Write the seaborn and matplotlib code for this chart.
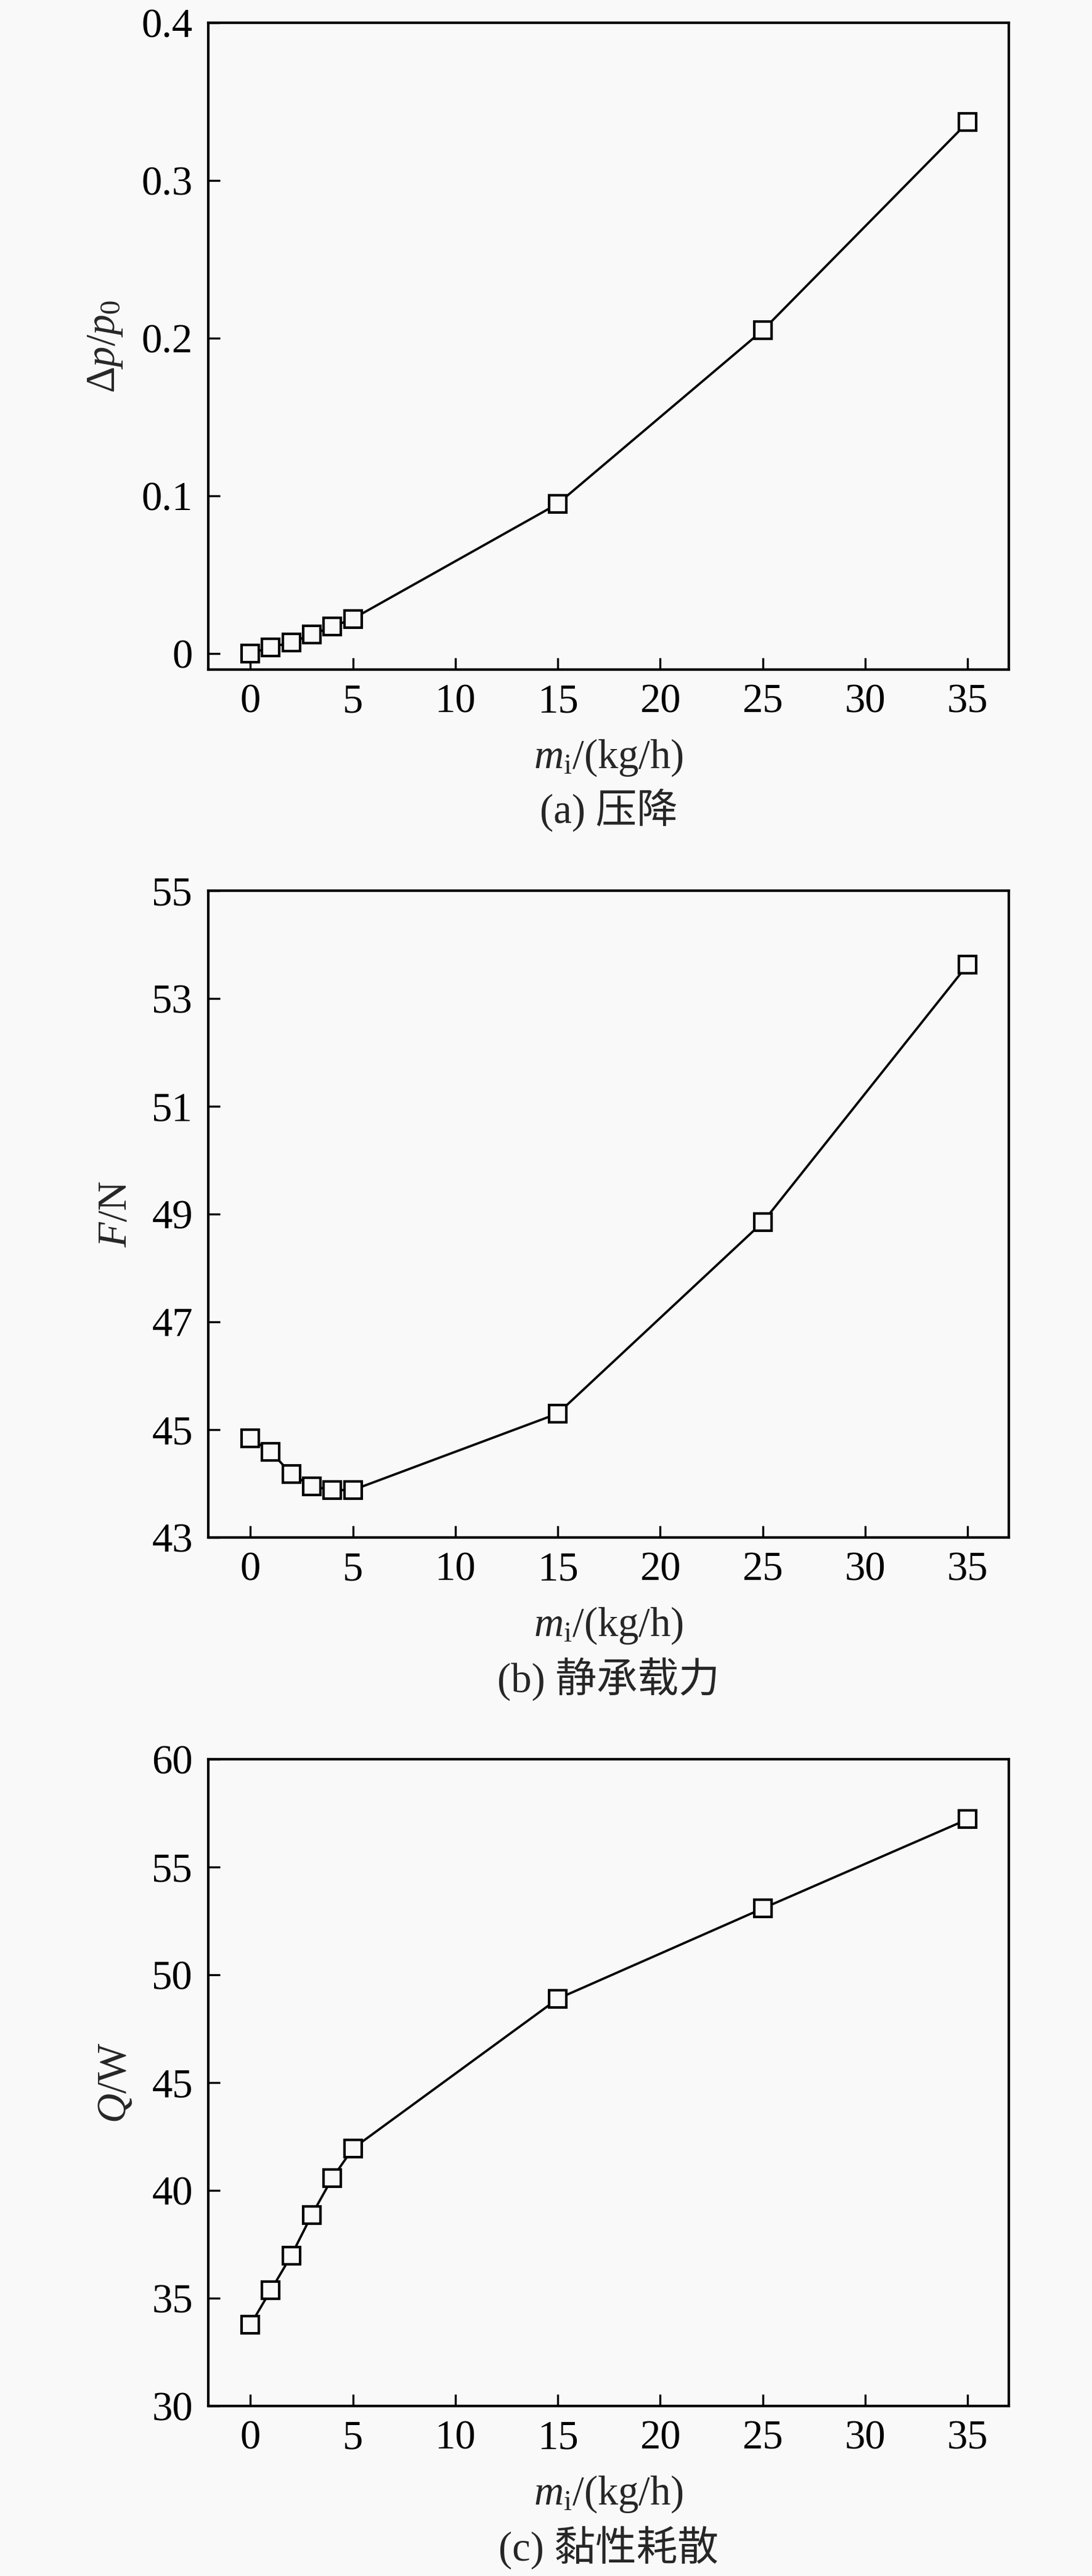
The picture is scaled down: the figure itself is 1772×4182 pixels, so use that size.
import matplotlib
matplotlib.use("Agg")
import matplotlib.pyplot as plt
import seaborn as sns
import pandas as pd

# ---------------- data ----------------
flow = [0, 1, 2, 3, 4, 5, 15, 25, 35]
pressure_drop = [0.000, 0.004, 0.007, 0.012, 0.017, 0.022, 0.095, 0.205, 0.337]
load_force = [44.84, 44.59, 44.18, 43.95, 43.88, 43.88, 45.30, 48.85, 53.63]
viscous_loss = [33.76, 35.37, 36.98, 38.87, 40.57, 41.94, 48.89, 53.08, 57.22]

x_ticks = [0, 5, 10, 15, 20, 25, 30, 35]
y1_ticks = [0, 0.1, 0.2, 0.3, 0.4]
y1_labels = ["0", "0.1", "0.2", "0.3", "0.4"]
y2_ticks = [43, 45, 47, 49, 51, 53, 55]
y3_ticks = [30, 35, 40, 45, 50, 55, 60]

x_label = r"$m_{\mathrm{i}}$/(kg/h)"
y_labels = [r"$\Delta p/p_0$", r"$F$/N", r"$Q$/W"]
captions = ["(a) 压降", "(b) 静承载力", "(c) 黏性耗散"]

# ---------------- style ----------------
sns.set_style("ticks")
BG = "#f9f9f9"
plt.rcParams["font.family"] = ["Liberation Serif", "Noto Sans CJK SC", "DejaVu Sans"]
plt.rcParams["mathtext.fontset"] = "custom"
plt.rcParams["mathtext.rm"] = "Liberation Serif"
plt.rcParams["mathtext.it"] = "Liberation Serif:italic"
plt.rcParams["mathtext.bf"] = "Liberation Serif:bold"
FS = 48

W, H = 1772, 4182
fig = plt.figure(figsize=(W / 100, H / 100), dpi=100, facecolor=BG)

left_px, right_px = 338, 1637
tops_px = [37, 1446, 2856]
height_px = 1050

series = [pressure_drop, load_force, viscous_loss]
ylims = [(-0.0102, 0.4), (43, 55), (30, 60)]
yticks = [y1_ticks, y2_ticks, y3_ticks]
yticklabels = [y1_labels, [str(v) for v in y2_ticks], [str(v) for v in y3_ticks]]

for i in range(3):
    top = tops_px[i]
    ax = fig.add_axes([left_px / W, 1 - (top + height_px) / H,
                       (right_px - left_px) / W, height_px / H])
    ax.set_facecolor(BG)
    df = pd.DataFrame({"x": flow, "y": series[i]})
    sns.lineplot(data=df, x="x", y="y", ax=ax, color="black", linewidth=2.7,
                 marker="s", markersize=20, markerfacecolor=BG,
                 markeredgecolor="black", markeredgewidth=3.0)
    ax.set_xlim(-2.05, 37.0)
    ax.set_ylim(*ylims[i])
    ax.set_xticks(x_ticks)
    ax.set_xticklabels([str(v) for v in x_ticks])
    ax.set_yticks(yticks[i])
    ax.set_yticklabels(yticklabels[i])
    ax.tick_params(axis="both", direction="in", length=14, width=2.4,
                   labelsize=FS, top=False, right=False, colors="black")
    ax.tick_params(axis="x", pad=16)
    ax.tick_params(axis="y", pad=18)
    for sp in ax.spines.values():
        sp.set_linewidth(3.0)
        sp.set_color("black")
        sp.set_visible(True)
    ax.set_xlabel(x_label, fontsize=FS, labelpad=19)
    ax.set_ylabel(y_labels[i], fontsize=FS, labelpad=20)
    ax.annotate(captions[i], xy=(0.5, 0), xycoords="axes fraction",
                xytext=(0, -165), textcoords="offset points",
                ha="center", va="center", fontsize=FS)

fig.savefig("out.png", dpi=100, facecolor=BG)
